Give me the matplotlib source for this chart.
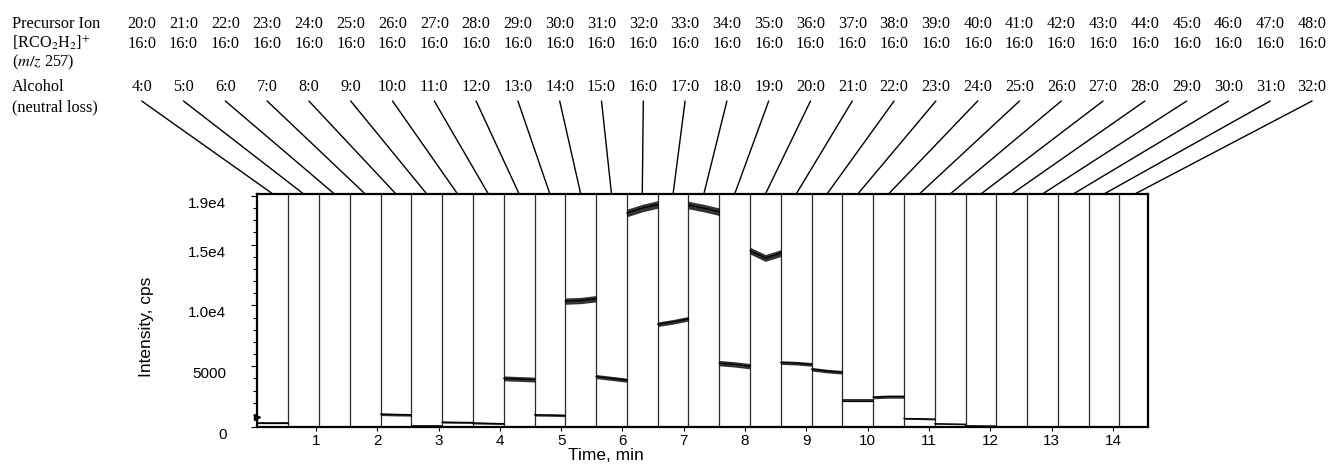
import matplotlib
matplotlib.use("Agg")
import matplotlib.pyplot as plt
import matplotlib.transforms as mtransforms
from matplotlib.patches import ConnectionPatch
from matplotlib.ticker import MultipleLocator, FixedLocator

plt.rcParams['font.family'] = ['Liberation Sans', 'DejaVu Sans']
plt.rcParams['mathtext.fontset'] = 'stix'

# ---------------- data ----------------
precursor_labels = ["%d:0" % n for n in range(20, 49)]
fragment_labels = ["16:0"] * 29
alcohol_labels = ["%d:0" % n for n in range(4, 33)]

seg_first_start = 0.048     # min
seg_duration = 0.502        # min

# intensity at start / middle / end of each MRM segment (cps)
level_start = [300, 20, 20, 20, 1050, 100, 400, 330, 4000, 1000,
               10350, 4150, 17600, 8450, 18250, 5250, 14500, 5300, 4750, 2150,
               2450, 700, 270, 100, 40, 40, 40, 40, 40]
level_mid = [300, 20, 20, 20, 1020, 100, 380, 300, 3950, 980,
             10400, 4000, 18000, 8650, 18000, 5150, 13900, 5250, 4600, 2150,
             2500, 680, 250, 90, 40, 40, 40, 40, 40]
level_end = [300, 20, 20, 20, 1000, 100, 370, 280, 3900, 950,
             10550, 3850, 18300, 8900, 17700, 5000, 14300, 5150, 4500, 2150,
             2500, 650, 230, 80, 40, 40, 40, 40, 40]
noise = [80, 20, 20, 20, 110, 60, 80, 80, 200, 100,
         260, 170, 310, 190, 310, 220, 280, 150, 150, 120,
         130, 70, 50, 40, 30, 30, 30, 30, 30]

x_ticks = list(range(1, 15))
y_ticks = [0, 5000, 10000, 15000, 19000]
y_ticklabels = ["0", "5000", "1.0e4", "1.5e4", "1.9e4"]

# ---------------- figure ----------------
W, H = 1328, 466
fig = plt.figure(figsize=(W / 100, H / 100), dpi=100)
ax = fig.add_axes([257 / W, 39 / H, (1148 - 257) / W, (427 - 194) / H])

n = len(precursor_labels)
for i in range(n):
    s = seg_first_start + seg_duration * i
    e = s + seg_duration
    xs = [s, (s + e) / 2, e]
    ys = [level_start[i], level_mid[i], level_end[i]]
    lo = [v - noise[i] for v in ys]
    hi = [v + noise[i] for v in ys]
    ax.fill_between(xs, lo, hi, color='black', lw=0, alpha=0.8, zorder=3)
    ax.plot(xs, ys, color='black', lw=0.9, zorder=3)
    if i > 0:
        ax.axvline(s, color='#2a2a2a', lw=0.9, zorder=2)

ax.set_xlim(0.04, 14.57)
ax.set_ylim(0, 19160)

# small marker on the y axis
ax.plot([0.04], [800], marker='>', color='black', ms=4, clip_on=False, zorder=5)

for sp in ax.spines.values():
    sp.set_linewidth(1.6)

ax.xaxis.set_major_locator(FixedLocator(x_ticks))
ax.set_xticklabels([str(t) for t in x_ticks], fontsize=11)
ax.tick_params(axis='x', direction='out', length=3, width=0.8, pad=2)

ax.yaxis.set_major_locator(FixedLocator(y_ticks))
ax.yaxis.set_minor_locator(MultipleLocator(1000))
ax.set_yticklabels(y_ticklabels, fontsize=11)
ax.tick_params(axis='y', which='major', direction='out', length=4, width=0.8, pad=18)
ax.tick_params(axis='y', which='minor', direction='out', length=3, width=0.8)
off = mtransforms.ScaledTranslation(0, -6.5 / 100, fig.dpi_scale_trans)
for lab in ax.get_yticklabels():
    lab.set_transform(lab.get_transform() + off)

ax.set_xlabel("Time, min", fontsize=12.5, va='center')
ax.xaxis.set_label_coords((606 - 257) / 891, -(455 - 427) / 233)
ax.set_ylabel("Intensity, cps", fontsize=12.5, va='center', ha='center')
ax.yaxis.set_label_coords((146.7 - 257) / 891, (427 - 326.7) / 233)

# ---------------- header ----------------
serif = ['Liberation Serif', 'DejaVu Serif']
hfs = 11.7
def fx(px):
    return px / W
def fy(py):
    return 1 - py / H

row_base = [28.3, 48.3, 66.5, 90.7, 111.7]
left_labels = ["Precursor Ion", r"[RCO$_2$H$_2$]$^{+}$", r"($m/z$ 257)", "Alcohol", "(neutral loss)"]
for txt, yb in zip(left_labels, row_base):
    fig.text(fx(12), fy(yb), txt, family=serif, fontsize=hfs, ha='left', va='baseline')

col_x0, col_dx = 141.7, 41.8
for i in range(n):
    cx = col_x0 + col_dx * i
    fig.text(fx(cx), fy(row_base[0]), precursor_labels[i], family=serif, fontsize=hfs,
             ha='center', va='baseline')
    fig.text(fx(cx), fy(row_base[1]), fragment_labels[i], family=serif, fontsize=hfs,
             ha='center', va='baseline')
    fig.text(fx(cx), fy(row_base[3]), alcohol_labels[i], family=serif, fontsize=hfs,
             ha='center', va='baseline')
    seg_c = seg_first_start + seg_duration * (i + 0.5)
    con = ConnectionPatch(xyA=(fx(cx), fy(101)), coordsA=fig.transFigure,
                          xyB=(seg_c, 1.0), coordsB=ax.get_xaxis_transform(),
                          color='black', lw=1.0)
    fig.add_artist(con)

fig.savefig("out.png", dpi=100)
